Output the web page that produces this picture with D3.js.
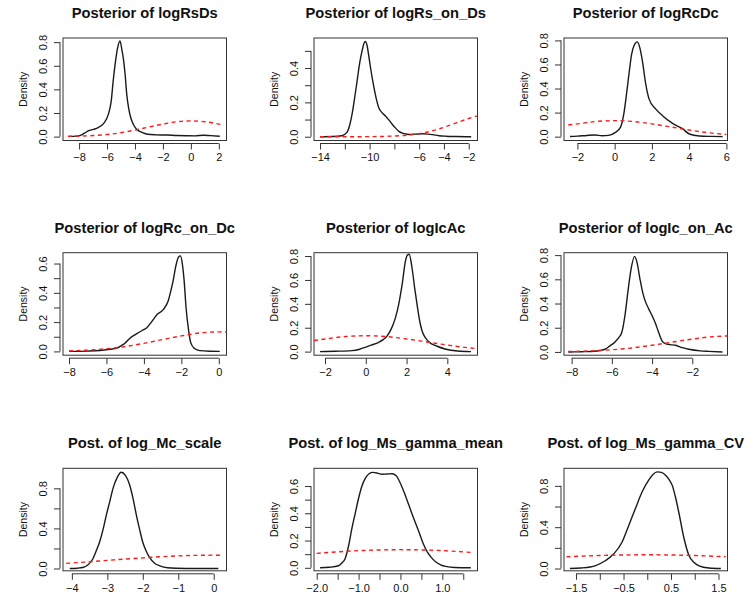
<!DOCTYPE HTML>
<html lang="en">
  <head>
    <meta http-equiv="content-type" content="text/html; charset=utf-8"/>
    <title>Posterior densities</title>
    <style type="text/css">
      body { margin: 0; background: #fff; }
      text { font-family: "Liberation Sans", Arial, Helvetica, sans-serif; fill: #111; }
      .title { font-weight: bold; font-size: 14.7px; }
      .tick text { font-size: 11px; fill: #111; }
      .ylab { font-size: 10.5px; }
      .frame { fill: none; stroke: #333; stroke-width: 1; }
      .tick line, .axis-line { stroke: #333; stroke-width: 1; }
      .post { fill: none; stroke: #1a1a1a; stroke-width: 1.4; }
      .prior { fill: none; stroke: #ff1a1a; stroke-width: 1.4; stroke-dasharray: 4,3.5; }
    </style>
  </head>
  <body>
    <script src="https://d3js.org/d3.v7.min.js"></script>
    <div id="chart"></div>
    <script>
      // ---------------------------------------------
      // Data
      // ---------------------------------------------
      var titles = [
        "Posterior of logRsDs", "Posterior of logRs_on_Ds", "Posterior of logRcDc",
        "Posterior of logRc_on_Dc", "Posterior of logIcAc", "Posterior of logIc_on_Ac",
        "Post. of log_Mc_scale", "Post. of log_Ms_gamma_mean", "Post. of log_Ms_gamma_CV"
      ];

      var xLims = [[-9.15, 2.55], [-14.49, -1.29], [-2.72, 6.06],
                   [-8.32, 0.41], [-2.54, 5.48], [-8.38, -0.25],
                   [-4.25, 0.36], [-2.065, 1.84], [-1.754, 1.69]];
      var yLims = [[-0.033, 0.835], [-0.022, 0.575], [-0.032, 0.82],
                   [-0.026, 0.674], [-0.03, 0.828], [-0.027, 0.82],
                   [-0.023, 1.0], [-0.022, 0.73], [-0.022, 0.97]];

      var xTicks = [[-8, -6, -4, -2, 0, 2], [-14, -12, -10, -8, -6, -4, -2], [-2, 0, 2, 4, 6],
                    [-8, -6, -4, -2, 0], [-2, 0, 2, 4], [-8, -6, -4, -2],
                    [-4, -3, -2, -1, 0], [-2, -1.5, -1, -0.5, 0, 0.5, 1, 1.5], [-1.5, -1, -0.5, 0, 0.5, 1, 1.5]];
      var xLabels = [[-8, -6, -4, -2, 0, 2], [-14, -10, -6, -4, -2], [-2, 0, 2, 4, 6],
                     [-8, -6, -4, -2, 0], [-2, 0, 2, 4], [-8, -6, -4, -2],
                     [-4, -3, -2, -1, 0], [-2, -1, 0, 1], [-1.5, -0.5, 0.5, 1.5]];
      var xDigits = [0, 0, 0, 0, 0, 0, 0, 1, 1];

      var yTicks = [[0, 0.2, 0.4, 0.6, 0.8], [0, 0.1, 0.2, 0.3, 0.4, 0.5], [0, 0.2, 0.4, 0.6, 0.8],
                    [0, 0.1, 0.2, 0.3, 0.4, 0.5, 0.6], [0, 0.2, 0.4, 0.6, 0.8], [0, 0.2, 0.4, 0.6, 0.8],
                    [0, 0.2, 0.4, 0.6, 0.8], [0, 0.1, 0.2, 0.3, 0.4, 0.5, 0.6], [0, 0.2, 0.4, 0.6, 0.8]];
      var yLabels = [[0, 0.2, 0.4, 0.6, 0.8], [0, 0.2, 0.4], [0, 0.2, 0.4, 0.6, 0.8],
                     [0, 0.2, 0.4, 0.6], [0, 0.2, 0.4, 0.6, 0.8], [0, 0.2, 0.4, 0.6, 0.8],
                     [0, 0.4, 0.8], [0, 0.2, 0.4, 0.6], [0, 0.4, 0.8]];

      // posterior densities (black) and priors (red dashed), [x, density]
      var post1 = [[-8.76,0.002],[-8.2,0.004],[-7.9,0.01],[-7.6,0.03],[-7.3,0.05],[-6.75,0.07],[-6.25,0.11],
        [-5.9,0.19],[-5.7,0.30],[-5.55,0.48],[-5.4,0.63],[-5.26,0.74],[-5.07,0.81],[-4.93,0.73],[-4.83,0.66],
        [-4.7,0.52],[-4.59,0.36],[-4.45,0.24],[-4.3,0.16],[-4.1,0.10],[-3.9,0.065],[-3.5,0.035],[-3.1,0.02],
        [-2.5,0.015],[-1.7,0.013],[-1,0.009],[-0.3,0.007],[0.3,0.006],[0.9,0.012],[1.4,0.008],[2.07,0.003]];
      var prior1 = [[-8.8,0.002],[-8,0.004],[-7,0.009],[-6,0.018],[-5,0.033],[-4,0.055],[-3,0.081],
        [-2,0.106],[-1,0.126],[0,0.133],[1,0.126],[2,0.106],[2.2,0.101]];

      var post2 = [[-14,0],[-13,0.001],[-12.24,0.006],[-11.83,0.025],[-11.6,0.07],[-11.42,0.13],[-11.2,0.23],
        [-11.02,0.32],[-10.8,0.43],[-10.61,0.50],[-10.45,0.545],[-10.34,0.555],[-10.2,0.53],[-10.08,0.477],
        [-9.9,0.39],[-9.67,0.294],[-9.46,0.22],[-9.26,0.169],[-9.0,0.14],[-8.72,0.121],[-8.45,0.098],
        [-8.18,0.073],[-7.9,0.05],[-7.64,0.031],[-7.2,0.018],[-6.83,0.013],[-6.3,0.015],[-5.74,0.017],
        [-5.3,0.015],[-4.93,0.012],[-4.4,0.006],[-3.85,0.003],[-3,0.001],[-1.8,0]];
      var prior2 = [[-14,0],[-12,0],[-10,0.0005],[-9,0.0015],[-8,0.004],[-7,0.009],[-6,0.018],[-5,0.033],
        [-4,0.055],[-3,0.081],[-2,0.106],[-1.3,0.121]];

      var post3 = [[-2.4,0.001],[-2,0.004],[-1.5,0.01],[-1.04,0.014],[-0.68,0.008],[-0.32,0.011],[0.04,0.036],
        [0.31,0.077],[0.49,0.188],[0.68,0.408],[0.8,0.56],[0.91,0.684],[1.05,0.76],[1.22,0.788],[1.35,0.74],
        [1.49,0.629],[1.67,0.436],[1.85,0.312],[2.21,0.229],[2.57,0.174],[3.11,0.11],[3.66,0.064],[4.01,0.022],
        [4.55,0.006],[5.2,0.002],[5.8,0]];
      var prior3 = [[-2.49,0.097],[-2,0.106],[-1,0.126],[0,0.133],[1,0.126],[2,0.106],[3,0.081],[4,0.055],
        [5,0.033],[6,0.018]];

      var post4 = [[-8,0],[-7,0.002],[-6.35,0.006],[-5.8,0.015],[-5.46,0.022],[-5.2,0.04],[-5.01,0.056],
        [-4.75,0.09],[-4.4,0.12],[-4.04,0.147],[-3.86,0.16],[-3.6,0.2],[-3.32,0.249],[-2.97,0.285],
        [-2.70,0.346],[-2.55,0.42],[-2.44,0.482],[-2.3,0.58],[-2.15,0.645],[-2.05,0.652],[-1.95,0.6],
        [-1.85,0.48],[-1.75,0.3],[-1.62,0.15],[-1.5,0.06],[-1.3,0.02],[-1.01,0.005],[-0.5,0.001],[0.05,0]];
      var prior4 = [[-8,0.003],[-7,0.009],[-6,0.018],[-5,0.033],[-4,0.055],[-3,0.081],[-2,0.106],[-1,0.126],
        [0,0.133],[0.4,0.132]];

      var post5 = [[-2.25,0],[-1.5,0.003],[-0.68,0.008],[-0.3,0.02],[-0.03,0.036],[0.3,0.056],[0.63,0.078],
        [0.85,0.1],[1.04,0.13],[1.25,0.19],[1.45,0.28],[1.62,0.4],[1.78,0.558],[1.94,0.753],[2.05,0.81],
        [2.13,0.815],[2.27,0.70],[2.4,0.53],[2.52,0.39],[2.65,0.25],[2.77,0.169],[2.95,0.11],[3.1,0.08],
        [3.5,0.045],[3.93,0.02],[4.5,0.005],[5.16,0]];
      var prior5 = [[-2.54,0.093],[-2,0.106],[-1,0.126],[0,0.133],[1,0.126],[2,0.106],[3,0.081],[4,0.055],
        [5,0.033],[5.48,0.025]];

      var post6 = [[-8.17,0],[-7.5,0.002],[-6.84,0.006],[-6.34,0.022],[-6.1,0.05],[-5.84,0.083],[-5.65,0.12],
        [-5.5,0.165],[-5.35,0.3],[-5.2,0.5],[-5.05,0.68],[-4.87,0.79],[-4.75,0.74],[-4.6,0.6],[-4.45,0.48],
        [-4.34,0.42],[-4.15,0.35],[-4.0,0.30],[-3.84,0.24],[-3.67,0.16],[-3.5,0.09],[-3.34,0.069],
        [-3.1,0.06],[-2.84,0.055],[-2.5,0.035],[-2.17,0.022],[-1.6,0.009],[-1.17,0.005],[-0.5,0]];
      var prior6 = [[-8.17,0.003],[-7,0.009],[-6,0.018],[-5,0.033],[-4,0.055],[-3,0.081],[-2,0.106],
        [-1,0.126],[-0.25,0.132]];

      var post7 = [[-4.06,0],[-3.85,0.003],[-3.69,0.01],[-3.55,0.035],[-3.41,0.095],[-3.32,0.17],[-3.22,0.262],
        [-3.12,0.39],[-3.03,0.531],[-2.93,0.67],[-2.84,0.80],[-2.72,0.91],[-2.61,0.96],[-2.49,0.93],
        [-2.37,0.833],[-2.27,0.69],[-2.18,0.531],[-2.09,0.39],[-2.0,0.262],[-1.9,0.17],[-1.81,0.111],
        [-1.66,0.05],[-1.52,0.027],[-1.3,0.008],[-1.05,0.003],[-0.5,0],[0.13,0]];
      var prior7 = [[-4.16,0.051],[-3.5,0.067],[-3,0.081],[-2.5,0.094],[-2,0.106],[-1.5,0.117],[-1,0.126],
        [-0.5,0.131],[0,0.133],[0.26,0.132]];

      var post8 = [[-1.92,0],[-1.7,0.004],[-1.48,0.015],[-1.4,0.035],[-1.32,0.069],[-1.24,0.16],[-1.16,0.289],
        [-1.08,0.4],[-1.0,0.51],[-0.92,0.6],[-0.84,0.656],[-0.75,0.69],[-0.66,0.70],[-0.55,0.695],
        [-0.44,0.686],[-0.32,0.688],[-0.2,0.69],[-0.1,0.675],[-0.04,0.644],[0.08,0.56],[0.2,0.46],
        [0.32,0.36],[0.44,0.264],[0.54,0.18],[0.64,0.117],[0.74,0.075],[0.84,0.044],[0.96,0.022],
        [1.08,0.01],[1.3,0.002],[1.68,0]];
      var prior8 = [[-2.0,0.106],[-1.5,0.117],[-1,0.126],[-0.5,0.131],[0,0.133],[0.5,0.131],[1,0.126],
        [1.5,0.117],[1.72,0.112]];

      var post9 = [[-1.63,0],[-1.4,0.005],[-1.2,0.015],[-1.1,0.026],[-0.886,0.075],[-0.71,0.14],[-0.532,0.254],
        [-0.39,0.417],[-0.25,0.58],[-0.11,0.741],[0.03,0.856],[0.12,0.91],[0.21,0.935],[0.3,0.93],
        [0.38,0.905],[0.46,0.86],[0.53,0.80],[0.6,0.68],[0.67,0.53],[0.77,0.3],[0.88,0.124],[0.98,0.06],
        [1.09,0.026],[1.3,0.005],[1.55,0]];
      var prior9 = [[-1.7,0.114],[-1,0.126],[-0.5,0.131],[0,0.133],[0.5,0.131],[1,0.126],[1.65,0.114]];

      var posts = [post1, post2, post3, post4, post5, post6, post7, post8, post9];
      var priors = [prior1, prior2, prior3, prior4, prior5, prior6, prior7, prior8, prior9];

      // ---------------------------------------------
      // Layout
      // ---------------------------------------------
      var colLeft = [63, 314, 564],
        rowTop = [38, 252.7, 468.3],
        boxW = 163.5,
        boxH = 102.5;

      var svg = d3.select("#chart")
        .append("svg")
          .attr("width", 745)
          .attr("height", 597)
          .style("background", "#fff");

      titles.forEach(function(title, i) {
        var col = i % 3, row = Math.floor(i / 3);

        var x = d3.scaleLinear().domain(xLims[i]).range([0, boxW]);
        var y = d3.scaleLinear().domain(yLims[i]).range([boxH, 0]);

        var g = svg.append("g")
          .attr("transform", "translate(" + colLeft[col] + "," + rowTop[row] + ")");

        // title
        g.append("text")
          .attr("class", "title")
          .attr("x", boxW / 2)
          .attr("y", -20)
          .attr("text-anchor", "middle")
          .text(title);

        // frame
        g.append("rect")
          .attr("class", "frame")
          .attr("width", boxW)
          .attr("height", boxH);

        // x axis (R style: line spans first..last tick, offset from frame)
        var xf = d3.format("." + xDigits[i] + "f");
        var xg = g.append("g")
          .attr("transform", "translate(0," + (boxH + 3) + ")")
          .call(d3.axisBottom(x)
            .tickValues(xTicks[i])
            .tickSize(6)
            .tickPadding(4)
            .tickFormat(function(d) { return xLabels[i].indexOf(d) >= 0 ? xf(d) : ""; }));
        xg.select(".domain").remove();
        xg.append("line")
          .attr("class", "axis-line")
          .attr("x1", x(xTicks[i][0]))
          .attr("x2", x(xTicks[i][xTicks[i].length - 1]));

        // y axis with rotated labels
        var yf = d3.format(".1f");
        var yg = g.append("g")
          .attr("transform", "translate(-3,0)")
          .call(d3.axisLeft(y)
            .tickValues(yTicks[i])
            .tickSize(6)
            .tickFormat(function(d) { return yLabels[i].indexOf(d) >= 0 ? yf(d) : ""; }));
        yg.select(".domain").remove();
        yg.selectAll(".tick text")
          .attr("transform", "rotate(-90)")
          .attr("x", 0)
          .attr("y", -13)
          .attr("dy", null)
          .attr("text-anchor", "middle");
        yg.append("line")
          .attr("class", "axis-line")
          .attr("y1", y(yTicks[i][0]))
          .attr("y2", y(yTicks[i][yTicks[i].length - 1]));

        g.append("text")
          .attr("class", "ylab")
          .attr("transform", "translate(-36," + (boxH / 2) + ") rotate(-90)")
          .attr("text-anchor", "middle")
          .text("Density");

        var line = d3.line()
          .x(function(d) { return x(d[0]); })
          .y(function(d) { return y(d[1]); })
          .curve(d3.curveMonotoneX);

        g.append("path")
          .datum(posts[i])
          .attr("class", "post")
          .attr("d", line);

        g.append("path")
          .datum(priors[i])
          .attr("class", "prior")
          .attr("d", line);
      });
    </script>
  </body>
</html>
